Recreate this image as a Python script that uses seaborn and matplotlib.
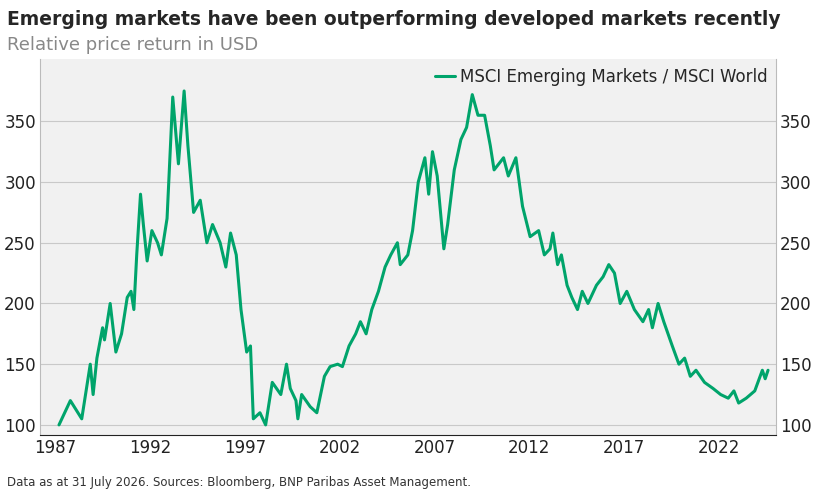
import matplotlib.pyplot as plt
import seaborn as sns
import pandas as pd

# quarterly-ish readings
years = [1987.2, 1987.8, 1988.4, 1988.85, 1989.0, 1989.2, 1989.5, 1989.6, 1989.9, 1990.2, 1990.5, 1990.8,
         1991.0, 1991.15, 1991.3, 1991.5, 1991.65, 1991.85, 1992.1, 1992.4, 1992.6, 1992.9, 1993.2, 1993.5,
         1993.8, 1994.0, 1994.3, 1994.65, 1995.0, 1995.3, 1995.7, 1996.0, 1996.25, 1996.55, 1996.8, 1997.1,
         1997.3, 1997.45, 1997.8, 1998.1, 1998.45, 1998.9, 1999.2, 1999.4, 1999.7, 1999.8, 2000.0, 2000.45,
         2000.8, 2001.2, 2001.5, 2001.9, 2002.15, 2002.5, 2002.85, 2003.1, 2003.4, 2003.7, 2004.05, 2004.4,
         2004.7, 2005.05, 2005.2, 2005.6, 2005.85, 2006.15, 2006.5, 2006.7, 2006.9, 2007.15, 2007.5, 2007.7,
         2008.05, 2008.4, 2008.7, 2009.0, 2009.3, 2009.65, 2009.95, 2010.15, 2010.65, 2010.9, 2011.3, 2011.65,
         2012.05, 2012.5, 2012.8, 2013.1, 2013.25, 2013.5, 2013.7, 2014.0, 2014.25, 2014.55, 2014.8, 2015.1,
         2015.55, 2015.9, 2016.2, 2016.5, 2016.8, 2017.15, 2017.55, 2018.0, 2018.3, 2018.5, 2018.8, 2019.1,
         2019.55, 2019.9, 2020.2, 2020.5, 2020.8, 2021.25, 2021.7, 2022.1, 2022.5, 2022.8, 2023.05, 2023.45,
         2023.9, 2024.3, 2024.45, 2024.6]
values = [100, 120, 105, 150, 125, 155, 180, 170, 200, 160, 175, 205,
          210, 195, 240, 290, 265, 235, 260, 250, 240, 270, 370, 315,
          375, 330, 275, 285, 250, 265, 250, 230, 258, 240, 195, 160,
          165, 105, 110, 100, 135, 125, 150, 130, 120, 105, 125, 115,
          110, 140, 148, 150, 148, 165, 175, 185, 175, 195, 210, 230,
          240, 250, 232, 240, 260, 300, 320, 290, 325, 305, 245, 265,
          310, 335, 345, 372, 355, 355, 330, 310, 320, 305, 320, 280,
          255, 260, 240, 245, 258, 232, 240, 215, 205, 195, 210, 200,
          215, 222, 232, 225, 200, 210, 195, 185, 195, 180, 200, 185,
          165, 150, 155, 140, 145, 135, 130, 125, 122, 128, 118, 122,
          128, 145, 138, 145]
series_name = "MSCI Emerging Markets / MSCI World"
xticks = [1987, 1992, 1997, 2002, 2007, 2012, 2017, 2022]
yticks = [100, 150, 200, 250, 300, 350]

df = pd.DataFrame({"year": years, "value": values})

sns.set_style("white")
plt.rcParams['font.family'] = ['DejaVu Sans']
fig = plt.figure(figsize=(8.34, 4.95), dpi=100)
ax = fig.add_axes([0.048, 0.122, 0.882, 0.758])
ax.set_facecolor("#f1f1f1")
sns.lineplot(data=df, x="year", y="value", color="#00a46b", linewidth=2.2, ax=ax, label=series_name)

ax.set_xlim(1986.2, 2025.0)
ax.set_ylim(92, 401)
ax.set_xticks(xticks)
ax.set_yticks(yticks)
ax.grid(axis="y", color="#c9c9c9", linewidth=0.8)
ax.set_axisbelow(True)
ax.set_xlabel("")
ax.set_ylabel("")
ax.tick_params(axis="both", labelsize=12, colors="#222222", length=0, pad=3)
ax.tick_params(axis="y", labelright=True, right=False)
for s in ["left", "right", "top"]:
    ax.spines[s].set_color("#bbbbbb")
ax.spines["top"].set_visible(False)
ax.spines["bottom"].set_color("#222222")
ax.legend(loc="upper right", frameon=False, fontsize=12, handlelength=1.2,
          handletextpad=0.3, borderaxespad=0.1)

fig.text(0.008, 0.96, "Emerging markets have been outperforming developed markets recently",
         fontsize=13.5, fontweight="bold", va="center")
fig.text(0.008, 0.91, "Relative price return in USD", fontsize=13, color="#888888", va="center")
fig.text(0.008, 0.025, "Data as at 31 July 2026. Sources: Bloomberg, BNP Paribas Asset Management.",
         fontsize=8.5, color="#333333", va="center")

fig.savefig("out.png", dpi=100)
